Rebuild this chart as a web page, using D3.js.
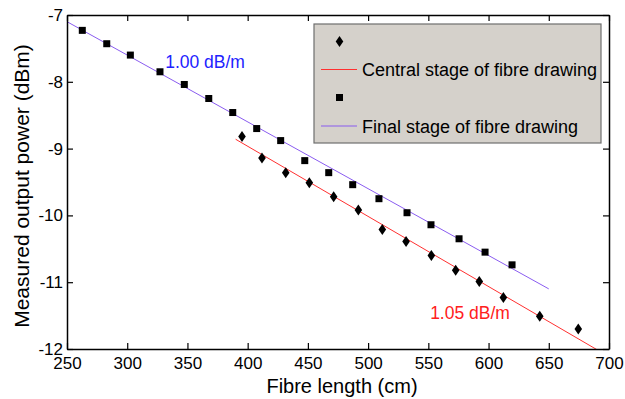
<!DOCTYPE html>
<html>
<head>
<meta charset="utf-8">
<script src="https://cdn.jsdelivr.net/npm/d3@7"></script>
<style>
  body { margin: 0; background: #fff; }
  svg { font-family: "Liberation Sans", Arial, Helvetica, sans-serif; }
</style>
</head>
<body>
<div id="chart"></div>
<script>
// Final stage of fibre drawing (squares)
const finalLength = [262.7, 283.0, 302.6, 327.2, 347.4, 367.7, 387.6, 407.5, 427.4, 447.4, 467.3, 487.2, 509.0, 532.3, 552.2, 575.5, 597.1, 619.5];
const finalPower = [-7.23, -7.43, -7.60, -7.85, -8.04, -8.25, -8.46, -8.70, -8.88, -9.18, -9.36, -9.54, -9.75, -9.96, -10.14, -10.35, -10.55, -10.74];

// Central stage of fibre drawing (diamonds)
const centralLength = [395.3, 411.9, 431.6, 451.2, 471.4, 491.9, 511.8, 531.5, 552.5, 572.7, 592.3, 612.3, 642.5, 674.5];
const centralPower = [-8.82, -9.14, -9.36, -9.51, -9.72, -9.92, -10.21, -10.39, -10.60, -10.82, -10.99, -11.23, -11.51, -11.70];

// linear fits: [central, final]
const fitNames = ['Central stage of fibre drawing', 'Final stage of fibre drawing'];
const fitStart = [390, 250];      // cm
const fitEnd = [700, 650];        // cm
const fitStartPower = [-8.86, -7.10];
const fitSlope = [-1.05, -1.00];  // dB/m
const fitLabels = ['1.05 dB/m', '1.00 dB/m'];

const xTicks = [250, 300, 350, 400, 450, 500, 550, 600, 650, 700];
const yTicks = [-7, -8, -9, -10, -11, -12];

const W = 625, H = 399;
const margin = { top: 15, right: 16, bottom: 50, left: 67 };
const iw = W - margin.left - margin.right;
const ih = H - margin.top - margin.bottom;

const svg = d3.select('#chart').append('svg')
  .attr('width', W).attr('height', H);

const g = svg.append('g')
  .attr('transform', `translate(${margin.left},${margin.top})`);

const x = d3.scaleLinear().domain([250, 700]).range([0, iw]);
const y = d3.scaleLinear().domain([-12, -7]).range([ih, 0]);

g.append('clipPath').attr('id', 'plot-clip')
  .append('rect').attr('width', iw).attr('height', ih);

// fit lines
const fitColors = ['#ff3030', '#8a5cf0'];
const fits = fitNames.map((name, i) => ({
  name,
  pts: [fitStart[i], fitEnd[i]].map(cm => [cm, fitStartPower[i] + fitSlope[i] / 100 * (cm - fitStart[i])])
}));

const line = d3.line().x(d => x(d[0])).y(d => y(d[1]));
g.append('g').attr('clip-path', 'url(#plot-clip)')
  .selectAll('path.fit')
  .data(fits)
  .enter().append('path')
  .attr('class', 'fit')
  .attr('d', d => line(d.pts))
  .attr('fill', 'none')
  .attr('stroke', (d, i) => fitColors[i])
  .attr('stroke-width', 1);

// markers
const diamond = 'M0,-5.5L3.8,0L0,5.5L-3.8,0Z';
g.selectAll('path.central')
  .data(centralLength.map((cm, i) => [cm, centralPower[i]]))
  .enter().append('path')
  .attr('class', 'central')
  .attr('d', diamond)
  .attr('transform', d => `translate(${x(d[0])},${y(d[1])})`)
  .attr('fill', '#000');

g.selectAll('rect.final')
  .data(finalLength.map((cm, i) => [cm, finalPower[i]]))
  .enter().append('rect')
  .attr('class', 'final')
  .attr('x', d => x(d[0]) - 3.5)
  .attr('y', d => y(d[1]) - 3.5)
  .attr('width', 7).attr('height', 7)
  .attr('fill', '#000');

// axes with inward ticks
const fmt = d => String(d);
const bottom = g.append('g').attr('transform', `translate(0,${ih})`)
  .call(d3.axisBottom(x).tickValues(xTicks).tickFormat(fmt).tickSize(-6).tickSizeOuter(0).tickPadding(8));
const left = g.append('g')
  .call(d3.axisLeft(y).tickValues(yTicks).tickFormat(fmt).tickSize(-6).tickSizeOuter(0).tickPadding(4));
g.append('g')
  .call(d3.axisTop(x).tickValues(xTicks).tickFormat('').tickSize(-6).tickSizeOuter(0));
g.append('g').attr('transform', `translate(${iw},0)`)
  .call(d3.axisRight(y).tickValues(yTicks).tickFormat('').tickSize(-6).tickSizeOuter(0));

g.selectAll('.domain').attr('stroke', '#000').attr('stroke-width', 1.5);
g.selectAll('.tick line').attr('stroke', '#000').attr('stroke-width', 1.2);
[bottom, left].forEach(a => a.selectAll('text').attr('font-size', 17).attr('fill', '#000').attr('font-family', null));

// axis titles
svg.append('text')
  .attr('x', 342).attr('y', 393)
  .attr('text-anchor', 'middle')
  .attr('font-size', 20)
  .text('Fibre length (cm)');

svg.append('text')
  .attr('transform', `translate(29,186) rotate(-90)`)
  .attr('text-anchor', 'middle')
  .attr('font-size', 21)
  .text('Measured output power (dBm)');

// slope annotations
const labelColors = ['#ff2020', '#2222ff'];
const labelAt = [[551.5, -11.55], [331.5, -7.79]];
g.selectAll('text.slope')
  .data(fitLabels)
  .enter().append('text')
  .attr('class', 'slope')
  .attr('x', (d, i) => x(labelAt[i][0]))
  .attr('y', (d, i) => y(labelAt[i][1]))
  .attr('font-size', 17.5)
  .attr('fill', (d, i) => labelColors[i])
  .text(d => d);

// legend
const lg = svg.append('g').attr('transform', 'translate(314,24)');
lg.append('rect')
  .attr('width', 287).attr('height', 119)
  .attr('fill', '#d5d1cb')
  .attr('stroke', '#6e6e6e').attr('stroke-width', 1.2);

lg.append('path').attr('d', diamond).attr('transform', 'translate(25.5,17.5)').attr('fill', '#000');
lg.append('rect').attr('x', 22).attr('y', 70).attr('width', 7).attr('height', 7).attr('fill', '#000');

fitNames.forEach((name, i) => {
  const yy = 45.5 + i * 56.5;
  lg.append('line')
    .attr('x1', 7).attr('x2', 43).attr('y1', yy).attr('y2', yy)
    .attr('stroke', fitColors[i]).attr('stroke-width', 1.2);
  lg.append('text')
    .attr('x', 48).attr('y', yy + 6.5)
    .attr('font-size', 18)
    .text(name);
});
</script>
</body>
</html>
